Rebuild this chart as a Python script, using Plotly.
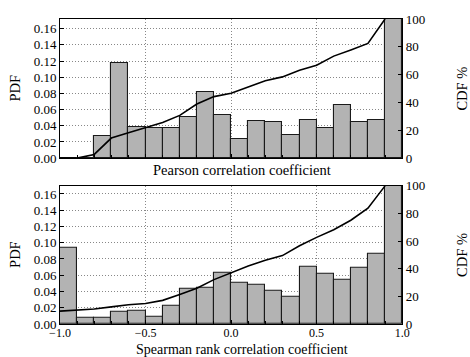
import plotly.graph_objects as go
from plotly.subplots import make_subplots

# bin left edges (bin width 0.1)
bin_left = [-1.0, -0.9, -0.8, -0.7, -0.6, -0.5, -0.4, -0.3, -0.2, -0.1,
            0.0, 0.1, 0.2, 0.3, 0.4, 0.5, 0.6, 0.7, 0.8, 0.9]

pearson_pdf = [0.0, 0.0, 0.0268, 0.1175, 0.038, 0.037, 0.037, 0.0511, 0.0812, 0.0536,
               0.0239, 0.0454, 0.0445, 0.028, 0.047, 0.037, 0.0652, 0.0445, 0.0466, 0.1757]
pearson_cdf = [0.0, 0.0, 2.68, 14.43, 18.23, 21.93, 25.63, 30.74, 38.86, 44.22,
               46.61, 51.15, 55.60, 58.40, 63.10, 66.80, 73.32, 77.77, 82.43, 100.0]

spearman_pdf = [0.0934, 0.0077, 0.0077, 0.015, 0.0158, 0.0089, 0.0227, 0.043, 0.0447, 0.0625,
                0.0508, 0.0483, 0.041, 0.0337, 0.0707, 0.0613, 0.0548, 0.069, 0.0869, 0.172]
spearman_cdf = [9.34, 10.11, 10.88, 12.38, 13.96, 14.85, 17.12, 21.42, 25.89, 32.14,
                37.22, 42.05, 46.15, 49.52, 56.59, 62.72, 68.20, 75.10, 83.79, 100.0]

pdf_ticks = [0.0, 0.02, 0.04, 0.06, 0.08, 0.10, 0.12, 0.14, 0.16]
cdf_ticks = [0, 20, 40, 60, 80, 100]
x_ticks = [-1.0, -0.5, 0.0, 0.5, 1.0]

FONT = "Liberation Serif, Times New Roman, serif"
GRID = dict(showgrid=True, griddash="1px,2px", gridcolor="#888", gridwidth=1)

fig = make_subplots(rows=2, cols=1,
                    specs=[[{"secondary_y": True}], [{"secondary_y": True}]])

for row, pdf, cdf in [(1, pearson_pdf, pearson_cdf), (2, spearman_pdf, spearman_cdf)]:
    fig.add_trace(go.Bar(x=bin_left, y=pdf, width=0.1, offset=0,
                         marker=dict(color="#b3b3b3", line=dict(color="#1a1a1a", width=1.1)),
                         showlegend=False),
                  row=row, col=1, secondary_y=False)
    fig.add_trace(go.Scatter(x=bin_left, y=cdf, mode="lines",
                             line=dict(color="black", width=1.6),
                             showlegend=False),
                  row=row, col=1, secondary_y=True)

xcommon = dict(range=[-1, 1], tickvals=x_ticks, tickformat=".1f",
               ticks="inside", ticklen=4, tickcolor="black",
               minor=dict(dtick=0.1, tick0=-1, ticks="inside", ticklen=3,
                          tickcolor="black", showgrid=False),
               showline=True, linecolor="black", linewidth=1, mirror=True,
               zeroline=False, ticklabelstandoff=-2,
               tickfont=dict(family=FONT, size=12, color="black"), **GRID)
fig.update_xaxes(**xcommon)
fig.update_xaxes(showticklabels=False, row=1, col=1)

for row, top in [(1, 0.172), (2, 0.170)]:
    fig.update_yaxes(range=[0, top], tickvals=pdf_ticks, tickformat=".2f",
                     ticks="inside", ticklen=4, tickcolor="black",
                     showline=True, linecolor="black", linewidth=1, zeroline=False,
                     tickfont=dict(family=FONT, size=13, color="black"),
                     row=row, col=1, secondary_y=False, **GRID)
    fig.update_yaxes(range=[0, 100], tickvals=cdf_ticks,
                     ticks="inside", ticklen=4, tickcolor="black",
                     showgrid=False, showline=True, linecolor="black", linewidth=1,
                     zeroline=False,
                     tickfont=dict(family=FONT, size=13, color="black"),
                     row=row, col=1, secondary_y=True)

top_dom = [0.5438, 1.0]
bot_dom = [0.0, 0.4529]
fig.update_layout(yaxis=dict(domain=top_dom), yaxis2=dict(domain=top_dom),
                  yaxis3=dict(domain=bot_dom), yaxis4=dict(domain=bot_dom))

ann_font = dict(family=FONT, size=14.5, color="black")
annotations = [
    dict(text="Pearson correlation coefficient", x=0.5, y=top_dom[0], xref="paper", yref="paper",
         yshift=-12, showarrow=False, font=ann_font, xanchor="center", yanchor="middle"),
    dict(text="Spearman rank correlation coefficient", x=0.5, y=bot_dom[0], xref="paper", yref="paper",
         yshift=-25, showarrow=False, font=dict(family=FONT, size=14, color="black"),
         xanchor="center", yanchor="middle"),
]
for dom in (top_dom, bot_dom):
    mid = (dom[0] + dom[1]) / 2
    annotations.append(dict(text="PDF", x=0, y=mid, xref="paper", yref="paper", xshift=-45,
                            textangle=-90, showarrow=False, font=ann_font,
                            xanchor="center", yanchor="middle"))
    annotations.append(dict(text="CDF %", x=1, y=mid, xref="paper", yref="paper", xshift=38,
                            textangle=-90, showarrow=False, font=ann_font,
                            xanchor="center", yanchor="middle"))

fig.update_layout(width=470, height=357, margin=dict(l=60, r=46, t=16, b=33),
                  paper_bgcolor="white", plot_bgcolor="white", bargap=0,
                  annotations=annotations,
                  font=dict(family=FONT, color="black"))

fig.write_html("out.html")
